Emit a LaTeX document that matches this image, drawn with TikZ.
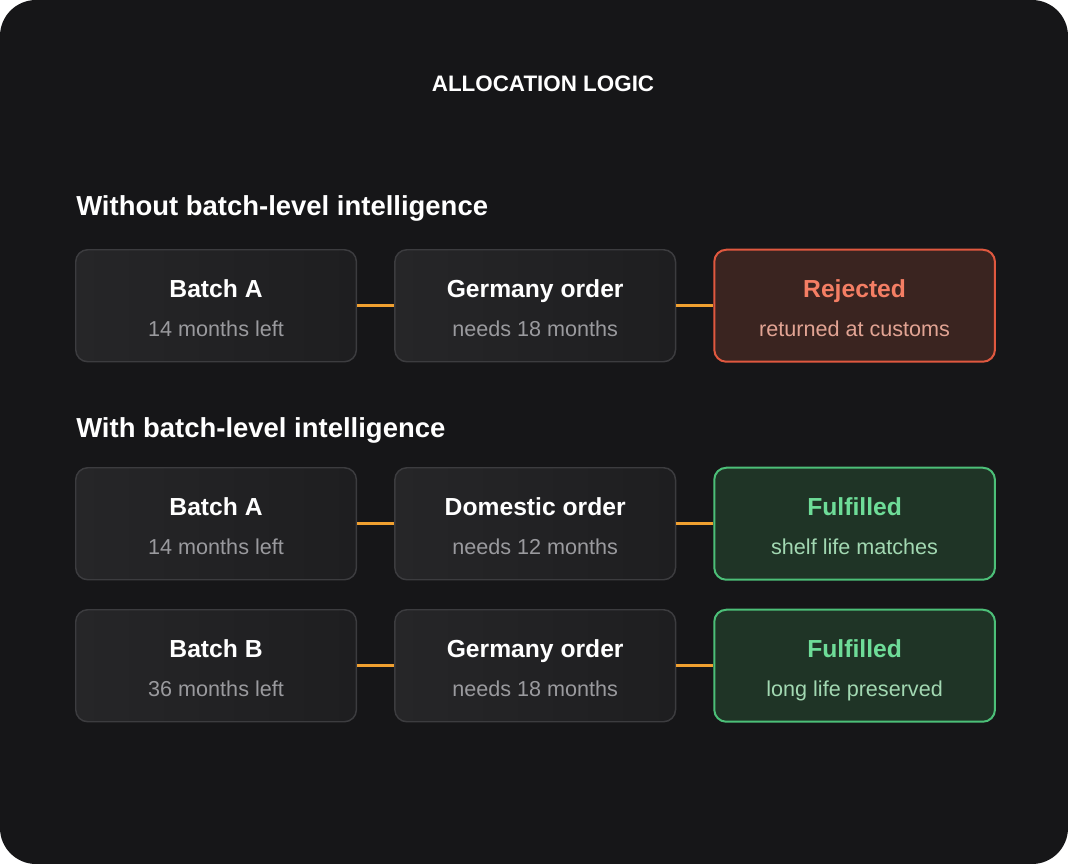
\documentclass[tikz,border=0pt]{standalone}
\usepackage{fontspec}
\setmainfont{Liberation Sans}
\usetikzlibrary{positioning}
\definecolor{FundoEscuro}{HTML}{161618}
\definecolor{CaixaFundo}{HTML}{222224}
\definecolor{CaixaClaro}{HTML}{262628}
\definecolor{CaixaEscuro}{HTML}{1E1E20}
\definecolor{CaixaBorda}{HTML}{3C3C3F}
\definecolor{TextoCinza}{HTML}{9A9A9E}
\definecolor{Laranja}{HTML}{F0A030}
\definecolor{RuimFundo}{HTML}{3A2420}
\definecolor{RuimBorda}{HTML}{E0583F}
\definecolor{RuimTitulo}{HTML}{F47E64}
\definecolor{RuimTexto}{HTML}{E2A494}
\definecolor{BomFundo}{HTML}{1F3426}
\definecolor{BomBorda}{HTML}{4CBF78}
\definecolor{BomTitulo}{HTML}{6EDC98}
\definecolor{BomTexto}{HTML}{A2D8B2}
\tikzset{
  caixa/.style={draw=CaixaBorda, left color=CaixaClaro, right color=CaixaEscuro,
                line width=1.1pt, rounded corners=9pt,
                minimum width=210.5pt, minimum height=84pt, inner sep=0pt},
  caixaruim/.style={caixa, draw=RuimBorda, fill=RuimFundo, left color=RuimFundo,
                right color=RuimFundo, line width=1.5pt},
  caixaboa/.style={caixa, draw=BomBorda, fill=BomFundo, left color=BomFundo,
                right color=BomFundo, line width=1.5pt},
  titulo/.style={anchor=base, text=white, font=\fontsize{18.5}{22}\selectfont\bfseries},
  legenda/.style={anchor=base, text=TextoCinza, font=\fontsize{16.2}{19}\selectfont},
  secao/.style={anchor=base west, inner sep=0pt, text=white,
                font=\fontsize{20.6}{24}\selectfont\bfseries},
  liga/.style={draw=Laranja, line width=2.2pt},
}
% titulo e legenda de uma caixa
\newcommand{\rotular}[5]{%
  \node[titulo, text=#4] (#1t) at ([yshift=6.4pt]#1.center) {#2};
  \node[legenda, text=#5] (#1s) at ([yshift=-22.9pt]#1.center) {#3};}

\begin{document}
\begin{tikzpicture}[x=0.75pt, y=-0.75pt, node distance=27.75pt]
  % fundo
  \fill[white] (0,0) rectangle (1068,864);
  \fill[FundoEscuro, rounded corners=27pt] (0,0) rectangle (1068,864);

  \node[anchor=base, text=white, font=\fontsize{16.8}{20}\selectfont\bfseries] (cabeca)
    at (543,91) {ALLOCATION LOGIC};

  % Sem inteligencia por lote
  \node[secao] (semlote) at (76,215) {Without batch-level intelligence};
  \node[caixa, anchor=north west] (a1) at (75,249) {};
  \node[caixa, right=of a1] (a2) {};
  \node[caixaruim, right=of a2] (a3) {};
  \rotular{a1}{Batch A}{14 months left}{white}{TextoCinza}
  \rotular{a2}{Germany order}{needs 18 months}{white}{TextoCinza}
  \rotular{a3}{Rejected}{returned at customs}{RuimTitulo}{RuimTexto}

  % Com inteligencia por lote
  \node[secao] (comlote) at (76,437) {With batch-level intelligence};
  \node[caixa, anchor=north west] (b1) at (75,467) {};
  \node[caixa, right=of b1] (b2) {};
  \node[caixaboa, right=of b2] (b3) {};
  \rotular{b1}{Batch A}{14 months left}{white}{TextoCinza}
  \rotular{b2}{Domestic order}{needs 12 months}{white}{TextoCinza}
  \rotular{b3}{Fulfilled}{shelf life matches}{BomTitulo}{BomTexto}

  \node[caixa, anchor=north west] (c1) at (75,609) {};
  \node[caixa, right=of c1] (c2) {};
  \node[caixaboa, right=of c2] (c3) {};
  \rotular{c1}{Batch B}{36 months left}{white}{TextoCinza}
  \rotular{c2}{Germany order}{needs 18 months}{white}{TextoCinza}
  \rotular{c3}{Fulfilled}{long life preserved}{BomTitulo}{BomTexto}

  % ligacoes
  \foreach \r in {a,b,c} {
    \draw[liga] (\r1) -- (\r2);
    \draw[liga] (\r2) -- (\r3);
  }
\end{tikzpicture}
\end{document}
